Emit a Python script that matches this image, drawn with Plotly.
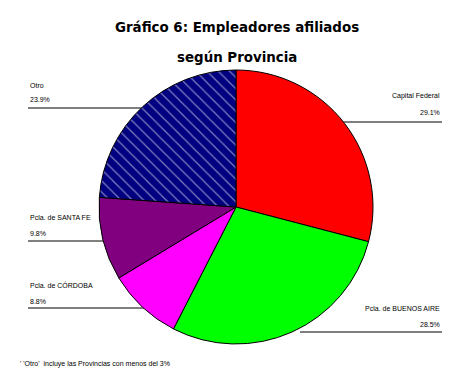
import plotly.graph_objects as go

categories = ["Capital Federal", "Pcla. de BUENOS AIRE", "Pcla. de CÓRDOBA", "Pcla. de SANTA FE", "Otro"]
values = [29.1, 28.5, 8.8, 9.8, 23.9]
pct_labels = ["29.1%", "28.5%", "8.8%", "9.8%", "23.9%"]
colors = ["#FF0000", "#00FF00", "#FF00FF", "#800080", "#000080"]

W, H = 474, 380
def px(x): return x / W
def py(y): return 1 - y / H

cx, cy, r = 236, 207, 137

fig = go.Figure(go.Pie(
    labels=categories, values=values, sort=False, direction="clockwise", rotation=0,
    textinfo="none", hoverinfo="skip",
    marker=dict(colors=colors, line=dict(color="black", width=1),
                pattern=dict(shape=["", "", "", "", "\\"], fgcolor="white", bgcolor=colors,
                             size=8, solidity=0.15, fillmode="overlay")),
    domain=dict(x=[px(cx - r), px(cx + r)], y=[py(cy + r), py(cy - r)]),
    showlegend=False,
))

font = dict(family="Liberation Sans", size=7, color="black")
tfont = dict(family="DejaVu Sans", size=13.4, color="black")
ann = []
# title
ann.append(dict(text="<b>Gráfico 6: Empleadores afiliados</b>", x=px(237), y=py(18), xref="paper", yref="paper",
                showarrow=False, font=tfont))
ann.append(dict(text="<b>según Provincia</b>", x=px(237), y=py(48), xref="paper", yref="paper",
                showarrow=False, font=tfont))

# label layout: (index, text x, anchor, name y, pct y, line y, line x0, line x1)
layout_info = [
    (0, 442, "right", 96, 113, 122, 343, 442),
    (1, 442, "right", 308, 324, 332, 300, 442),
    (2, 28, "left", 285, 301, 308, 28, 144),
    (3, 28, "left", 217, 233, 241, 28, 103),
    (4, 28, "left", 85, 100, 108, 28, 145),
]
shapes = []
for i, tx, anc, ny, pyy, ly, lx0, lx1 in layout_info:
    ann.append(dict(text=categories[i], x=px(tx), y=py(ny), xref="paper", yref="paper",
                    xanchor=anc, yanchor="middle", showarrow=False, font=font))
    ann.append(dict(text=pct_labels[i], x=px(tx), y=py(pyy), xref="paper", yref="paper",
                    xanchor=anc, yanchor="middle", showarrow=False, font=font))
    shapes.append(dict(type="line", xref="paper", yref="paper", x0=px(lx0), x1=px(lx1),
                       y0=py(ly), y1=py(ly), line=dict(color="black", width=1), layer="below"))

ann.append(dict(text="' 'Otro'  incluye las Provincias con menos del 3%", x=px(18), y=py(364),
                xref="paper", yref="paper", xanchor="left", yanchor="middle", showarrow=False,
                font=dict(family="Liberation Sans", size=7, color="black")))

fig.update_layout(width=W, height=H, margin=dict(l=0, r=0, t=0, b=0),
                  paper_bgcolor="white", plot_bgcolor="white",
                  annotations=ann, shapes=shapes)
fig.write_html("out.html")
